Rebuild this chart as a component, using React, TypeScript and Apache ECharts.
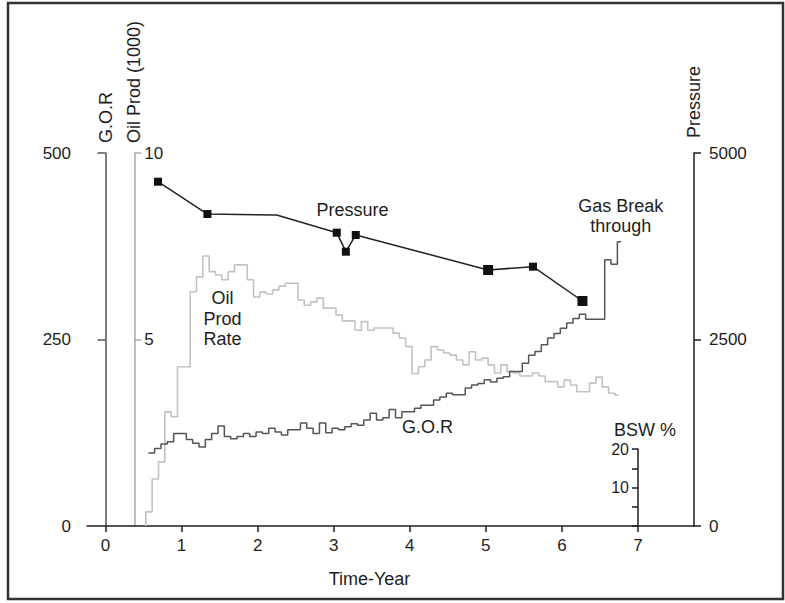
import React, { useEffect, useRef } from 'react';
import * as echarts from 'echarts';

// ---- axis ticks / labels ----
const xTickYears = [0, 1, 2, 3, 4, 5, 6, 7];
const gorAxisTicks = [0, 250, 500];
const oilAxisTicks = [5, 10];
const pressureAxisTicks = [0, 2500, 5000];
const bswAxisTicks = [0, 5, 10, 15, 20];
const bswAxisLabels = [10, 20];

// ---- pressure (psi) at survey dates (years) ----
const pressureYears = [0.69, 1.34, 2.25, 3.04, 3.16, 3.29, 5.03, 5.62, 6.27];
const pressureValues = [4615, 4182, 4169, 3932, 3677, 3901, 3432, 3476, 3016];
const pressureMarked = [true, true, false, true, true, true, true, true, true];

// ---- oil production rate (1000), monthly ----
const oilStartYear = 0.53;
const oilEndYear = 6.74;
const oilMonthly = [
  0.38, 1.26, 1.72, 3.06, 2.93, 4.27, 4.27, 6.28, 6.68, 7.24,
  6.82, 6.73, 6.6, 6.82, 7.0, 7.0, 6.6, 6.14, 6.27, 6.22,
  6.33, 6.43, 6.51, 6.51, 6.06, 5.92, 6.01, 6.11, 5.84, 5.84,
  5.66, 5.5, 5.5, 5.25, 5.48, 5.25, 5.31, 5.31, 5.31, 5.17,
  5.04, 4.81, 4.09, 4.27, 4.45, 4.81, 4.72, 4.64, 4.58, 4.45,
  4.32, 4.67, 4.45, 4.5, 4.32, 4.1, 4.32, 4.14, 4.1, 4.02,
  4.02, 4.1, 4.02, 3.87, 3.87, 3.73, 3.91, 3.78, 3.6, 3.6,
  3.83, 3.99, 3.73, 3.56, 3.51,
];

// ---- gas-oil ratio, monthly ----
const gorStartYear = 0.5625;
const gorEndYear = 6.78;
const gorMonthly = [
  98, 104, 110, 113, 124, 124, 116, 111, 106, 116,
  124, 134, 120, 117, 120, 124, 120, 126, 124, 131,
  126, 122, 129, 129, 138, 131, 124, 138, 125, 131,
  129, 133, 137, 135, 142, 151, 142, 145, 156, 145,
  153, 153, 158, 162, 162, 169, 173, 178, 176, 176,
  185, 189, 191, 196, 193, 198, 200, 207, 207, 218,
  229, 234, 243, 252, 258, 265, 272, 278, 284, 277,
  277, 277, 357, 351, 381,
];

const FONT = '"Liberation Sans", Arial, Helvetica, sans-serif';
const INK = '#1e1e1e';

function monthlySeries(start: number, end: number, vals: number[], leadZero: boolean) {
  const out: number[][] = [];
  if (leadZero) out.push([start, 0]);
  vals.forEach((v, i) => out.push([start + i / 12, v]));
  out.push([end, vals[vals.length - 1]]);
  return out;
}

const plain = (v: number) => String(v);

export default function App() {
  const ref = useRef<HTMLDivElement>(null);

  useEffect(() => {
    document.body.style.margin = '0';
    if (!ref.current) return;
    const chart = echarts.init(ref.current, undefined, { renderer: 'svg' });

    const txt = { fontFamily: FONT, fontSize: 17, color: INK, formatter: plain };

    const option: any = {
      animation: false,
      backgroundColor: '#ffffff',
      grid: [
        { left: 87, right: 91, top: 153, height: 373, containLabel: false, outerBoundsMode: 'none' },
        { left: 638, width: 10, top: 449, height: 77, containLabel: false, outerBoundsMode: 'none' },
      ],
      xAxis: [
        {
          type: 'value',
          gridIndex: 0,
          min: -0.2432,
          max: 7.7364,
          splitLine: { show: false },
          axisLine: { show: true, lineStyle: { color: INK, width: 1.5 } },
          axisTick: { show: true, length: 6, lineStyle: { color: INK, width: 1.5 }, customValues: xTickYears },
          axisLabel: { ...txt, margin: 11, customValues: xTickYears },
          name: 'Time-Year',
          nameLocation: 'middle',
          nameGap: 44,
          nameMoveOverlap: false,
          nameTextStyle: { fontFamily: FONT, fontSize: 18, color: INK, padding: [0, 42, 0, 0] },
        },
        {
          type: 'value',
          gridIndex: 1,
          show: false,
          min: 0,
          max: 1,
        },
      ],
      yAxis: [
        {
          // G.O.R
          type: 'value',
          gridIndex: 0,
          position: 'left',
          offset: 0,
          min: 0,
          max: 500,
          interval: 250,
          splitLine: { show: false },
          axisLine: { show: true, lineStyle: { color: '#555', width: 1.5 } },
          axisTick: { show: true, length: 8, lineStyle: { color: '#555', width: 1.5 }, customValues: gorAxisTicks },
          axisLabel: { ...txt, margin: 16, customValues: gorAxisTicks },
          name: 'G.O.R',
          nameLocation: 'end',
          nameRotate: 90,
          nameGap: 10,
          nameMoveOverlap: false,
          nameTextStyle: { fontFamily: FONT, fontSize: 18, color: INK },
        },
        {
          // Oil Prod (1000)
          type: 'value',
          gridIndex: 0,
          position: 'left',
          offset: -47.3,
          min: 0,
          max: 10,
          interval: 5,
          splitLine: { show: false },
          axisLine: { show: true, lineStyle: { color: '#a8a8a8', width: 1.5 } },
          axisTick: { show: true, inside: true, length: 7, lineStyle: { color: '#a8a8a8', width: 1.5 }, customValues: oilAxisTicks },
          axisLabel: { ...txt, inside: true, margin: 10, customValues: oilAxisTicks },
          name: 'Oil Prod (1000)',
          nameLocation: 'end',
          nameRotate: 90,
          nameGap: 10,
          nameMoveOverlap: false,
          nameTextStyle: { fontFamily: FONT, fontSize: 18, color: INK },
        },
        {
          // Pressure
          type: 'value',
          gridIndex: 0,
          position: 'right',
          offset: 0,
          min: 0,
          max: 5000,
          interval: 2500,
          splitLine: { show: false },
          axisLine: { show: true, lineStyle: { color: INK, width: 1.5 } },
          axisTick: { show: true, length: 7, lineStyle: { color: INK, width: 1.5 }, customValues: pressureAxisTicks },
          axisLabel: { ...txt, margin: 15, customValues: pressureAxisTicks },
          name: 'Pressure',
          nameLocation: 'end',
          nameRotate: 90,
          nameGap: 15,
          nameMoveOverlap: false,
          nameTextStyle: { fontFamily: FONT, fontSize: 18, color: INK },
        },
        {
          // BSW %
          type: 'value',
          gridIndex: 1,
          position: 'left',
          offset: 0,
          min: 0,
          max: 20,
          interval: 5,
          splitLine: { show: false },
          axisLine: { show: true, lineStyle: { color: INK, width: 1.5 } },
          axisTick: { show: true, length: 6, lineStyle: { color: INK, width: 1.5 }, customValues: bswAxisTicks },
          axisLabel: { ...txt, fontSize: 16, margin: 9, customValues: bswAxisLabels },
          name: 'BSW %',
          nameLocation: 'end',
          nameGap: 10,
          nameMoveOverlap: false,
          nameTextStyle: { fontFamily: FONT, fontSize: 18, color: INK, padding: [0, 0, 0, 14] },
        },
      ],
      graphic: [
        {
          type: 'rect',
          silent: true,
          shape: { x: 8, y: 3, width: 775, height: 596 },
          style: { fill: 'none', stroke: '#333333', lineWidth: 2.5 },
        },
        {
          type: 'text',
          x: 352.5,
          y: 210,
          style: { text: 'Pressure', fontFamily: FONT, fontSize: 18, fill: INK, align: 'center', verticalAlign: 'middle' },
        },
        {
          type: 'text',
          x: 222.5,
          y: 318.5,
          style: { text: 'Oil\nProd\nRate', fontFamily: FONT, fontSize: 18, lineHeight: 20.5, fill: INK, align: 'center', verticalAlign: 'middle' },
        },
        {
          type: 'text',
          x: 427.5,
          y: 426.5,
          style: { text: 'G.O.R', fontFamily: FONT, fontSize: 18, fill: INK, align: 'center', verticalAlign: 'middle' },
        },
        {
          type: 'text',
          x: 620.8,
          y: 216,
          style: { text: 'Gas Break\nthrough', fontFamily: FONT, fontSize: 18, lineHeight: 20, fill: INK, align: 'center', verticalAlign: 'middle' },
        },
      ],
      series: [
        {
          name: 'Oil Prod Rate',
          type: 'line',
          xAxisIndex: 0,
          yAxisIndex: 1,
          step: 'end',
          showSymbol: false,
          symbol: 'none',
          lineStyle: { color: '#c2c2c2', width: 1.6 },
          data: monthlySeries(oilStartYear, oilEndYear, oilMonthly, true),
          z: 2,
        },
        {
          name: 'G.O.R',
          type: 'line',
          xAxisIndex: 0,
          yAxisIndex: 0,
          step: 'end',
          showSymbol: false,
          symbol: 'none',
          lineStyle: { color: '#555555', width: 1.5 },
          data: monthlySeries(gorStartYear, gorEndYear, gorMonthly, false),
          z: 3,
        },
        {
          name: 'Pressure',
          type: 'line',
          xAxisIndex: 0,
          yAxisIndex: 2,
          symbol: 'rect',
          symbolSize: (_v: any, p: any) => (p.dataIndex === 6 || p.dataIndex === 8 ? 10 : 8),
          itemStyle: { color: '#111' },
          lineStyle: { color: '#222', width: 1.5 },
          data: pressureYears.map((t, i) =>
            pressureMarked[i]
              ? { value: [t, pressureValues[i]] }
              : { value: [t, pressureValues[i]], symbol: 'none' }
          ),
          z: 4,
        },
      ],
    };

    chart.setOption(option);
    return () => chart.dispose();
  }, []);

  return <div ref={ref} style={{ width: 785, height: 603 }} />;
}
